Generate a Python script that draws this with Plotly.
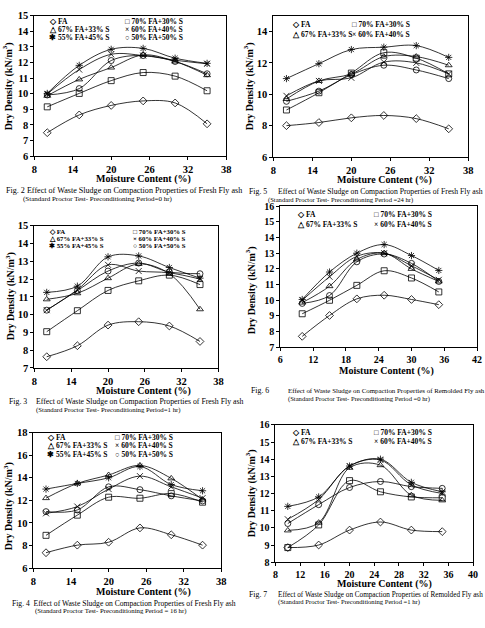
import plotly.graph_objects as go

W, H = 485, 628
MOISTURE = [10, 15, 20, 25, 30, 35]
SERIES = ["FA", "70% FA+30% S", "67% FA+33% S", "60% FA+40% S", "55% FA+45% S", "50% FA+50% S"]
SYMBOLS = ["diamond-open", "square-open", "triangle-up-open", "x-thin-open", "asterisk-open", "circle-open"]
GLYPHS = ["◇", "□", "△", "×", "✱", "○"]

# Fig. 2 fresh, 0 hr
FIG2_FA = [7.5, 8.64, 9.25, 9.54, 9.41, 8.07]
FIG2_70 = [9.16, 10.02, 10.84, 11.36, 11.13, 10.19]
FIG2_67 = [9.87, 10.92, 11.68, 12.49, 12.07, 11.19]
FIG2_60 = [9.98, 11.55, 12.53, 12.45, 12.15, 11.92]
FIG2_55 = [10.02, 11.82, 12.85, 12.91, 12.28, 11.95]
FIG2_50 = [9.92, 10.33, 12.13, 12.45, 12.07, 11.28]

# Fig. 5 fresh, 24 hr
FIG5_FA = [8.0, 8.2, 8.5, 8.65, 8.45, 7.8]
FIG5_70 = [9.0, 10.1, 11.35, 12.65, 12.3, 11.3]
FIG5_67 = [9.7, 10.85, 11.3, 12.4, 12.4, 11.85]
FIG5_60 = [9.9, 10.85, 11.05, 12.05, 12.0, 11.3]
FIG5_55 = [11.0, 11.95, 12.85, 13.0, 13.1, 12.35]
FIG5_50 = [9.55, 10.2, 11.25, 11.85, 11.55, 11.0]

# Fig. 3 fresh, 1 hr
FIG3_FA = [7.63, 8.25, 9.41, 9.6, 9.36, 8.49]
FIG3_70 = [9.04, 10.22, 11.36, 11.9, 12.22, 11.69]
FIG3_67 = [10.86, 11.2, 12.05, 12.85, 12.3, 10.3]
FIG3_60 = [10.25, 11.4, 12.8, 12.45, 12.35, 12.0]
FIG3_55 = [11.25, 11.6, 13.25, 13.3, 12.65, 12.05]
FIG3_50 = [10.25, 11.35, 12.45, 12.9, 12.4, 12.3]

# Fig. 6 remolded, 0 hr
FIG6_FA = [7.7, 9.03, 10.09, 10.32, 10.05, 9.72]
FIG6_70 = [9.14, 10.0, 10.95, 11.88, 11.42, 10.53]
FIG6_67 = [9.85, 10.9, 12.6, 13.0, 12.0, 11.2]
FIG6_60 = [10.0, 11.5, 12.8, 13.0, 12.2, 11.3]
FIG6_55 = [10.05, 11.8, 13.0, 13.55, 12.85, 11.9]
FIG6_50 = [9.8, 10.3, 12.45, 12.95, 12.35, 11.2]

# Fig. 4 fresh, 16 hr
FIG4_FA = [7.36, 8.03, 8.29, 9.56, 8.95, 8.03]
FIG4_70 = [8.9, 10.69, 12.28, 12.19, 12.6, 11.84]
FIG4_67 = [12.2, 13.5, 14.25, 15.1, 13.95, 12.07]
FIG4_60 = [10.85, 11.45, 13.0, 14.15, 13.2, 12.2]
FIG4_55 = [13.0, 13.5, 14.0, 15.0, 13.4, 12.85]
FIG4_50 = [11.0, 11.15, 13.2, 12.95, 12.4, 11.95]

# Fig. 7 remolded, 1 hr
FIG7_FA = [8.85, 9.0, 9.87, 10.34, 9.87, 9.78]
FIG7_70 = [8.85, 10.17, 12.75, 12.1, 11.8, 11.75]
FIG7_67 = [9.85, 10.3, 13.5, 13.65, 11.9, 11.6]
FIG7_60 = [10.5, 11.65, 13.6, 13.95, 12.5, 12.0]
FIG7_55 = [11.25, 11.8, 13.6, 14.0, 12.65, 12.1]
FIG7_50 = [10.25, 11.35, 12.35, 12.7, 12.4, 12.3]

SERIF = "Liberation Serif"
NB = "\u00a0"

FRESH = "Effect of Waste Sludge on Compaction Properties of Fresh Fly ash"
REMOLD = "Effect of Waste Sludge on Compaction Properties of Remolded Fly ash"

panels = [
    dict(data=[FIG2_FA, FIG2_70, FIG2_67, FIG2_60, FIG2_55, FIG2_50],
         box=(32, 227, 10, 153), xr=[8, 38], xd=6, yr=[6, 15], yd=1, nleg=6, tf=10.5,
         leg=(45, 122, 15.5, 8.2), ytitle=(5, 82), xtitle=(143, 176),
         cap=[(1, 188, "Fig. 2 " + FRESH, 8.1),
              (18, 197, "(Standard Proctor Test- Preconditioning Period=0 hr)", 7.0)]),
    dict(data=[FIG5_FA, FIG5_70, FIG5_67, FIG5_60, FIG5_55, FIG5_50],
         box=(275, 473, 10, 154), xr=[8, 38], xd=6, yr=[6, 15], yd=2, nleg=4, tf=10.5,
         leg=(292, 353, 19, 10), ytitle=(250, 82), xtitle=(388, 177.5),
         cap=[(248, 189, "Fig. 5", 7.8),
              (278, 189, FRESH, 7.7),
              (267, 197.5, "(Standard Proctor Test- Preconditioning Period =24 hr)", 6.6)]),
    dict(data=[FIG3_FA, FIG3_70, FIG3_67, FIG3_60, FIG3_55, FIG3_50],
         box=(32, 219, 224, 369), xr=[8, 38], xd=6, yr=[7, 15], yd=1, nleg=6, tf=10.5,
         leg=(45, 130, 230, 7.2), ytitle=(7, 296), xtitle=(143, 392),
         cap=[(4, 403, "Fig. 3", 7.8),
              (32, 403, FRESH, 7.8),
              (32, 412, "(Standard Proctor Test- Preconditioning Period=1 hr)", 6.8)]),
    dict(data=[FIG6_FA, FIG6_70, FIG6_67, FIG6_60, FIG6_55, FIG6_50],
         box=(282, 482, 204, 348), xr=[6, 42], xd=6, yr=[7, 16], yd=1, nleg=4, tf=10,
         leg=(297, 375, 213, 9.5), ytitle=(252, 290), xtitle=(390, 372),
         cap=[(250, 392, "Fig. 6", 7.8),
              (288, 392, REMOLD, 6.9),
              (288, 401, "(Standard Proctor Test- Preconditioning Period =0 hr)", 6.6)]),
    dict(data=[FIG4_FA, FIG4_70, FIG4_67, FIG4_60, FIG4_55, FIG4_50],
         box=(31, 222, 435, 573), xr=[8, 38], xd=6, yr=[6, 18], yd=2, nleg=6, tf=10.5,
         leg=(43, 112, 440, 8.5), ytitle=(5, 510), xtitle=(143, 597),
         cap=[(7, 609, "Fig. 4" + NB + NB + FRESH, 7.6),
              (30, 617, "(Standard Proctor Test- Preconditioning Period = 16 hr)", 6.8)]),
    dict(data=[FIG7_FA, FIG7_70, FIG7_67, FIG7_60, FIG7_55, FIG7_50],
         box=(277, 478, 427, 567), xr=[8, 40], xd=4, yr=[8, 16], yd=1, nleg=4, tf=10,
         leg=(292, 375, 435, 9), ytitle=(252, 497), xtitle=(388, 589.5),
         cap=[(248, 600, "Fig. 7", 7.8),
              (278, 600, REMOLD, 7.2),
              (278, 607.5, "(Standard Proctor Test- Preconditioning Period =1 hr)", 6.6)]),
]

fig = go.Figure()
annotations = []
layout = dict(width=W, height=H, margin=dict(l=0, r=0, t=0, b=0, pad=0),
              paper_bgcolor="white", plot_bgcolor="white", showlegend=False,
              font=dict(family=SERIF, color="black"))


def ann(x, y, text, size, xanchor="left", yanchor="middle", bold=False, angle=0):
    annotations.append(dict(x=x / W, y=1 - y / H, xref="paper", yref="paper", text=text,
                            showarrow=False, xanchor=xanchor, yanchor=yanchor, textangle=angle,
                            font=dict(family=SERIF, size=size, color="black",
                                      weight=700 if bold else 400)))


for i, p in enumerate(panels, start=1):
    sfx = "" if i == 1 else str(i)
    x0, x1, yt, yb = p["box"]
    axis_common = dict(showline=True, linecolor="black", linewidth=1, mirror=True,
                       ticks="outside", ticklen=3, tickcolor="black", showgrid=False,
                       zeroline=False,
                       tickfont=dict(family=SERIF, size=p["tf"], color="black", weight=700))
    layout["xaxis" + sfx] = dict(domain=[x0 / W, x1 / W], range=p["xr"], dtick=p["xd"],
                                 tick0=p["xr"][0], anchor="y" + sfx, **axis_common)
    layout["yaxis" + sfx] = dict(domain=[1 - yb / H, 1 - yt / H], range=p["yr"], dtick=p["yd"],
                                 tick0=p["yr"][0], anchor="x" + sfx, **axis_common)
    for k, vals in enumerate(p["data"]):
        fig.add_trace(go.Scatter(
            x=MOISTURE, y=vals, mode="lines+markers", name=SERIES[k],
            xaxis="x" + sfx, yaxis="y" + sfx,
            line=dict(color="black", width=0.8, shape="spline", smoothing=1.0),
            marker=dict(symbol=SYMBOLS[k], size=6, color="black",
                        line=dict(color="black", width=0.8)),
            showlegend=False))
    lx1, lx2, ly0, dy = p["leg"]
    lsize = 7.5 if dy >= 8 else 6.8
    for k in range(p["nleg"]):
        col = k % 2
        row = k // 2
        ann(lx1 if col == 0 else lx2, ly0 + row * dy, GLYPHS[k] + " " + SERIES[k], lsize, bold=True)
    ann(p["ytitle"][0], p["ytitle"][1], "Dry Density (kN/m<sup>3</sup>)", 10, xanchor="center",
        bold=True, angle=-90)
    ann(p["xtitle"][0], p["xtitle"][1], "Moisture Content (%)", 10, xanchor="center", bold=True)
    for (cx, cy, txt, sz) in p["cap"]:
        ann(cx, cy, txt, sz)

layout["annotations"] = annotations
fig.update_layout(**layout)
fig.write_html("out.html")
